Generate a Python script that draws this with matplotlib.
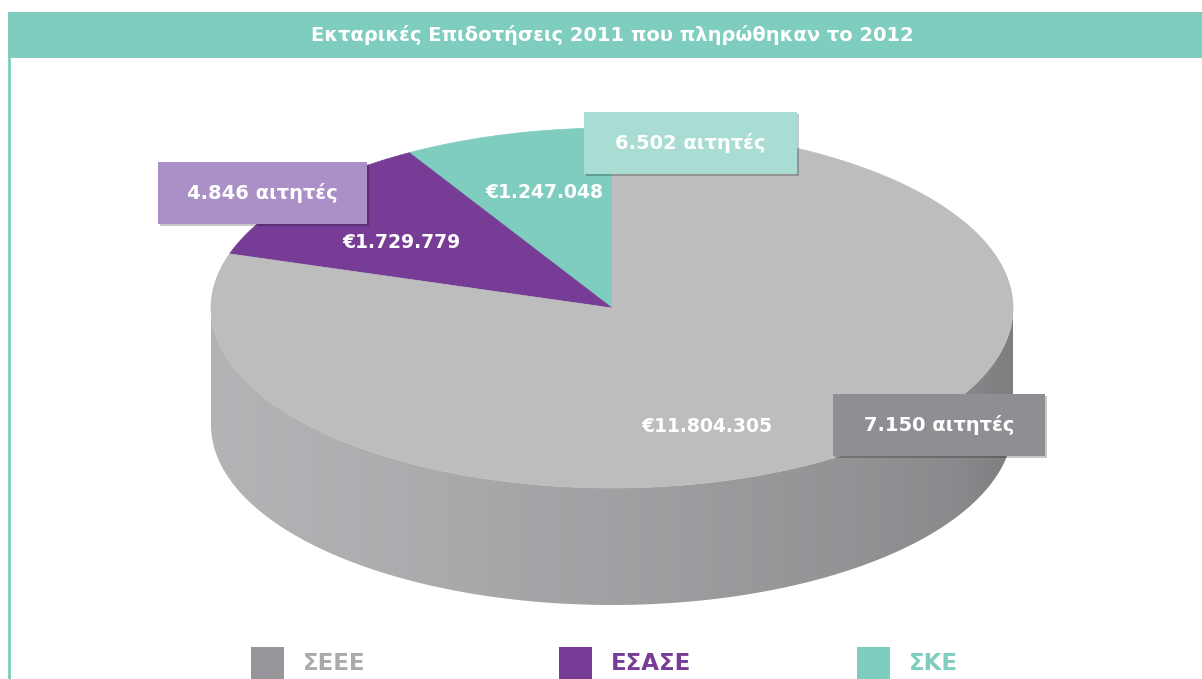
import numpy as np
import matplotlib
matplotlib.use("Agg")
import matplotlib.pyplot as plt
from matplotlib.patches import Polygon, Rectangle
from matplotlib import patheffects as pe

# ---------------- data ----------------
categories = ["ΣΕΕΕ", "ΕΣΑΣΕ", "ΣΚΕ"]
amounts = [11804305, 1729779, 1247048]          # €
applicants = [7150, 4846, 6502]
title = "Εκταρικές Επιδοτήσεις 2011 που πληρώθηκαν το 2012"

# ---------------- style ----------------
TEAL = "#7ECDBF"
top_colors = {"ΣΕΕΕ": "#BDBDBD", "ΕΣΑΣΕ": "#773D96", "ΣΚΕ": "#7ECDBF"}
legend_colors = {"ΣΕΕΕ": "#97979B", "ΕΣΑΣΕ": "#773D96", "ΣΚΕ": "#7ECDBF"}
legend_text_colors = {"ΣΕΕΕ": "#A9AAAC", "ΕΣΑΣΕ": "#773D96", "ΣΚΕ": "#7ECDBF"}
box_colors = {"ΣΕΕΕ": "#8F8F93", "ΕΣΑΣΕ": "#AA90C6", "ΣΚΕ": "#A9DCD3"}

# layout (pixel coordinates, y downward)
W, H = 1202, 679
cx, cy, ra, rb, depth = 612, 308, 401, 180, 117
box_rects = {"ΣΕΕΕ": (833, 394, 212, 62), "ΕΣΑΣΕ": (158, 162, 209, 62), "ΣΚΕ": (584, 112, 213, 62)}
value_pos = {"ΣΕΕΕ": (707, 427), "ΕΣΑΣΕ": (401, 242), "ΣΚΕ": (544, 193)}
legend_x = {"ΣΕΕΕ": 251, "ΕΣΑΣΕ": 559, "ΣΚΕ": 857}

plt.rcParams["font.family"] = ["DejaVu Sans"]

fig = plt.figure(figsize=(W / 100, H / 100), dpi=100)
ax = fig.add_axes([0, 0, 1, 1])
ax.set_xlim(0, W)
ax.set_ylim(H, 0)
ax.axis("off")

# title bar and left rule
ax.add_patch(Rectangle((8, 12), W - 8, 46, color=TEAL, lw=0, zorder=1))
ax.plot([9, 9], [58, H], color=TEAL, lw=2, zorder=1)
ax.text(612, 35, title, color="white", fontsize=14, fontweight="bold",
        ha="center", va="center", zorder=2)

# ---------------- 3D pie ----------------
def top_pt(theta):
    return cx + ra * np.cos(theta), cy - rb * np.sin(theta)

# side (front half) with horizontal gradient
t = np.linspace(0, np.pi, 200)
top_arc = np.column_stack([cx + ra * np.cos(t), cy + rb * np.sin(t)])
bot_arc = np.column_stack([cx + ra * np.cos(t[::-1]), cy + depth + rb * np.sin(t[::-1])])
side = Polygon(np.vstack([top_arc, bot_arc]), closed=True, facecolor="none", edgecolor="none")
ax.add_patch(side)
xs = np.linspace(cx - ra, cx + ra, 400)
stops_x = [cx - ra, cx - 200, cx, cx + 240, cx + 350, cx + ra]
stops_v = [180, 172, 161, 147, 137, 126]
vals = np.interp(xs, stops_x, stops_v) / 255.0
grad = np.dstack([vals, vals, vals + 0.012, np.ones_like(vals)])
grad = np.clip(grad, 0, 1)
im = ax.imshow(grad, extent=(cx - ra, cx + ra, cy + depth + rb + 2, cy - 2),
               aspect="auto", zorder=2, interpolation="bilinear")
im.set_clip_path(side)
ax.set_xlim(0, W)
ax.set_ylim(H, 0)

# top face wedges, counter-clockwise from 12 o'clock
total = float(sum(amounts))
order = [2, 1, 0]
start = np.pi / 2
for i in order:
    span = 2 * np.pi * amounts[i] / total
    th = np.linspace(start, start + span, max(int(span * 60), 4))
    pts = [(cx, cy)] + [top_pt(a) for a in th]
    ax.add_patch(Polygon(pts, closed=True, facecolor=top_colors[categories[i]],
                         edgecolor=top_colors[categories[i]], lw=0.5, zorder=3))
    start += span

# value labels
for i, c in enumerate(categories):
    lab = "€" + f"{amounts[i]:,}".replace(",", ".")
    x, y = value_pos[c]
    ax.text(x, y, lab, color="white", fontsize=13.5, fontweight="bold",
            ha="center", va="center", zorder=5)

# applicant boxes
shadow = [pe.withSimplePatchShadow(offset=(1.5, -1.5), shadow_rgbFace="black", alpha=0.22), pe.Normal()]
for i, c in enumerate(categories):
    x, y, w, h = box_rects[c]
    r = Rectangle((x, y), w, h, facecolor=box_colors[c], edgecolor="none", zorder=6)
    r.set_path_effects(shadow)
    ax.add_patch(r)
    lab = f"{applicants[i]:,}".replace(",", ".") + " αιτητές"
    ax.text(x + w / 2, y + h / 2, lab, color="white", fontsize=14, fontweight="bold",
            ha="center", va="center", zorder=7)

# legend
for c in categories:
    x = legend_x[c]
    ax.add_patch(Rectangle((x, 647), 33, 34, facecolor=legend_colors[c], edgecolor="none", zorder=3))
    ax.text(x + 52, 664, c, color=legend_text_colors[c], fontsize=16.5, fontweight="bold",
            ha="left", va="center", zorder=3)

fig.savefig("out.png", dpi=100)
